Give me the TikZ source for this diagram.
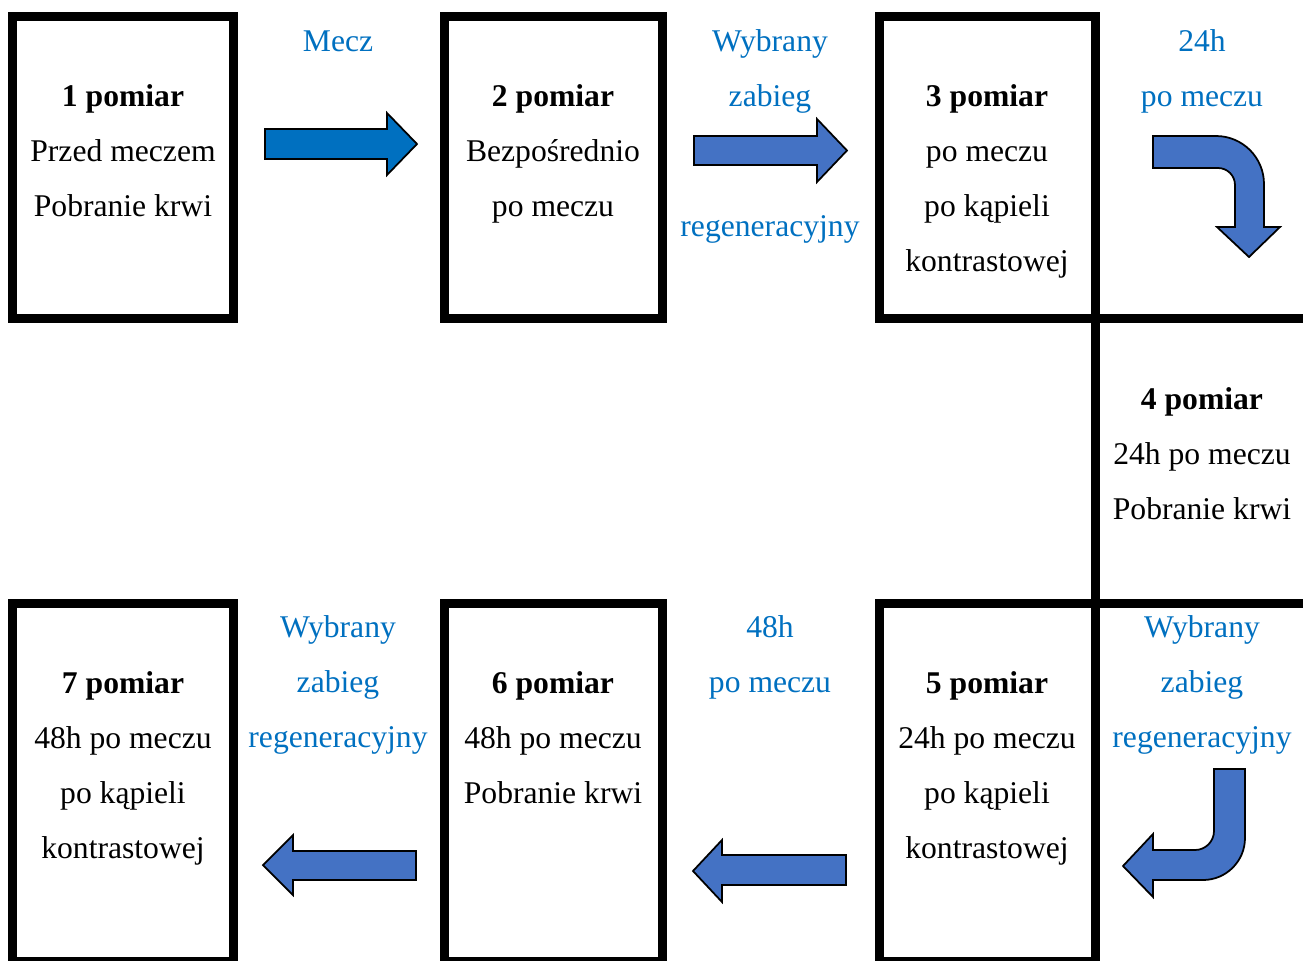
\documentclass[tikz,border=0pt]{standalone}
\usepackage{fontspec}
\setmainfont{Liberation Serif}
\definecolor{lblblue}{HTML}{0070C0}
\definecolor{arrowblue}{HTML}{4472C4}

\begin{document}
\begin{tikzpicture}[x=0.02cm, y=-0.02cm,
	every node/.style={font=\fontsize{18}{31.3}\selectfont, align=center, inner sep=0pt, anchor=base},
	pbox/.style={line width=0.18cm},
	lbl/.style={text=lblblue},
	barrow/.style={draw=black, line width=1pt, fill=arrowblue, line join=miter}]
	\useasboundingbox (0,0) rectangle (1303,961);
	\clip (0,0) rectangle (1303,961);
	% boxes
	\draw[pbox] (12.5,16.5) rectangle (233.5,318.5);
	\draw[pbox] (444.5,16.5) rectangle (662.5,318.5);
	\draw[pbox] (879.5,16.5) rectangle (1095.5,318.5);
	\draw[pbox] (12.5,603.5) rectangle (233.5,961.5);
	\draw[pbox] (444.5,603.5) rectangle (662.5,961.5);
	\draw[pbox] (879.5,603.5) rectangle (1095.5,961.5);
	\draw[pbox] (1095.5,318.5) -- (1095.5,603.5);
	\draw[pbox] (1095.5,318.5) -- (1303,318.5);
	\draw[pbox] (1095.5,603.5) -- (1303,603.5);
	% texts (base = baseline of the last line)
	\node (p1) at (123,216) {\textbf{1 pomiar}\\Przed meczem\\Pobranie krwi};
	\node (p2) at (553,216) {\textbf{2 pomiar}\\Bezpośrednio\\po meczu};
	\node (p3) at (987,271) {\textbf{3 pomiar}\\po meczu\\po kąpieli\\kontrastowej};
	\node (p4) at (1202,519) {\textbf{4 pomiar}\\24h po meczu\\Pobranie krwi};
	\node (p5) at (987,858) {\textbf{5 pomiar}\\24h po meczu\\po kąpieli\\kontrastowej};
	\node (p6) at (553,803) {\textbf{6 pomiar}\\48h po meczu\\Pobranie krwi};
	\node (p7) at (123,858) {\textbf{7 pomiar}\\48h po meczu\\po kąpieli\\kontrastowej};
	\node[lbl] (mecz) at (338,51) {Mecz};
	\node[lbl] (zab1) at (770,106) {Wybrany\\zabieg};
	\node[lbl] (reg1) at (770,236) {regeneracyjny};
	\node[lbl] (h24) at (1202,106) {24h\\po meczu};
	\node[lbl] (zab2) at (1202,747) {Wybrany\\zabieg\\regeneracyjny};
	\node[lbl] (h48) at (770,692) {48h\\po meczu};
	\node[lbl] (zab3) at (338,747) {Wybrany\\zabieg\\regeneracyjny};
	% arrows
	\draw[barrow, fill=lblblue] (265,129) -- (387,129) -- (387,113) -- (417,144) -- (387,175) -- (387,159) -- (265,159) -- cycle;
	\draw[barrow] (694,136) -- (817,136) -- (817,119) -- (847,150.5) -- (817,182) -- (817,165) -- (694,165) -- cycle;
	\draw[barrow] (1153,136) -- (1216,136) .. controls (1242.5,136) and (1264,157.5) .. (1264,184)
		-- (1264,227) -- (1280,227) -- (1249,257) -- (1217,227) -- (1235,227) -- (1235,185)
		.. controls (1235,175.6) and (1227.4,168) .. (1218,168) -- (1153,168) -- cycle;
	\draw[barrow] (1214,769) -- (1245,769) -- (1245,838) .. controls (1245,861.2) and (1226.2,880) .. (1203,880)
		-- (1153,880) -- (1153,897) -- (1123,866) -- (1153,834) -- (1153,850) -- (1195,850)
		.. controls (1205.5,850) and (1214,841.5) .. (1214,831) -- cycle;
	\draw[barrow] (846,855) -- (722,855) -- (722,840) -- (693,871) -- (722,902) -- (722,885) -- (846,885) -- cycle;
	\draw[barrow] (416,851) -- (293,851) -- (293,835) -- (263,865) -- (293,895) -- (293,880) -- (416,880) -- cycle;
\end{tikzpicture}
\end{document}
